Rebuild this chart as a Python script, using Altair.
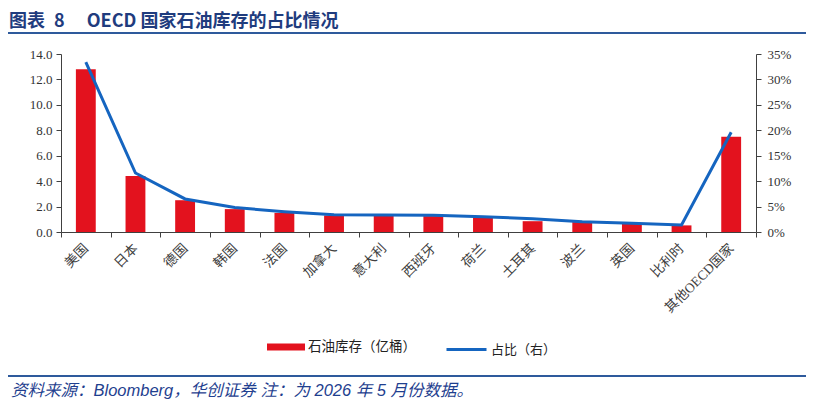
import altair as alt
import pandas as pd

countries = ["美国", "日本", "德国", "韩国", "法国", "加拿大", "意大利", "西班牙",
             "荷兰", "土耳其", "波兰", "英国", "比利时", "其他OECD国家"]
stocks = [12.8, 4.4, 2.5, 1.8, 1.5, 1.3, 1.3, 1.25, 1.15, 0.85, 0.78, 0.68, 0.52, 7.5]
shares = [0.334, 0.116, 0.065, 0.048, 0.040, 0.034, 0.0335, 0.033, 0.030, 0.026,
          0.020, 0.017, 0.014, 0.196]
bar_name = "石油库存（亿桶）"
line_name = "占比（右）"
left_ticks = [0, 2, 4, 6, 8, 10, 12, 14]
right_ticks = [0, 0.05, 0.10, 0.15, 0.20, 0.25, 0.30, 0.35]
title_text = "图表\u20028\u3000 OECD 国家石油库存的占比情况"
footer_text = "资料来源：Bloomberg，华创证券 注：为 2026 年 5 月份数据。"

df = pd.DataFrame({
    "country": countries,
    "stock": stocks,
    "share": shares,
    "s1": [bar_name] * len(countries),
    "s2": [line_name] * len(countries),
})

W, H = 695, 178
RED = "#E3121E"
BLUE = "#1565C0"
NAVY = "#1F3C7E"
SERIF = "Liberation Serif, Noto Sans CJK SC"
CJK = "Noto Sans CJK SC"

x_enc = alt.X(
    "country:N", sort=countries, title=None,
    scale=alt.Scale(paddingInner=0, paddingOuter=0),
    axis=alt.Axis(labelAngle=-45, labelAlign="right", labelBaseline="middle",
                  labelPadding=9, tickBand="extent", tickSize=5,
                  labelFont=SERIF, labelFontSize=13.5, labelColor="#404040",
                  domainColor="#404040", tickColor="#404040", labelOverlap=False),
)

bars = alt.Chart(df).mark_bar(width=alt.RelativeBandSize(0.4)).encode(
    x=x_enc,
    y=alt.Y("stock:Q", title=None,
            scale=alt.Scale(domain=[0, 14], nice=False),
            axis=alt.Axis(values=left_ticks, format=".1f", orient="left", grid=False,
                          tickSize=5, labelFont=SERIF, labelFontSize=13,
                          labelColor="#333333", domainColor="#404040",
                          tickColor="#404040", labelPadding=4)),
    color=alt.Color("s1:N", title=None,
                    scale=alt.Scale(domain=[bar_name], range=[RED]),
                    legend=alt.Legend(orient="none", legendX=206, legendY=274,
                                      symbolType="M-1,-0.18H1V0.18H-1Z",
                                      symbolSize=1444, symbolStrokeWidth=0,
                                      labelFont=CJK, labelFontSize=13.5,
                                      labelColor="#222222", labelOffset=3,
                                      padding=0)),
)

line = alt.Chart(df).mark_line(strokeWidth=3).encode(
    x=alt.X("country:N", sort=countries),
    y=alt.Y("share:Q", title=None,
            scale=alt.Scale(domain=[0, 0.35], nice=False),
            axis=alt.Axis(values=right_ticks, format=".0%", orient="right", grid=False,
                          tickSize=5, labelFont=SERIF, labelFontSize=13,
                          labelColor="#333333", domainColor="#404040",
                          tickColor="#404040", labelPadding=6)),
    stroke=alt.Stroke("s2:N", title=None,
                      scale=alt.Scale(domain=[line_name], range=[BLUE]),
                      legend=alt.Legend(orient="none", legendX=384, legendY=274,
                                        symbolType="stroke", symbolSize=1600,
                                        symbolStrokeWidth=3, labelFont=CJK,
                                        labelFontSize=13, labelColor="#222222",
                                        labelOffset=3, padding=0)),
)

title = alt.Chart(pd.DataFrame({"t": [title_text]})).mark_text(
    align="left", baseline="middle", font=CJK, fontSize=18, fontWeight="bold",
    color=NAVY,
).encode(text="t:N", x=alt.value(-52), y=alt.value(-32))

title_rule = alt.Chart(pd.DataFrame({"t": [0]})).mark_rule(
    color="#2E5A9C", strokeWidth=2.2
).encode(x=alt.value(-53), x2=alt.value(745), y=alt.value(-21))

foot_rule = alt.Chart(pd.DataFrame({"t": [0]})).mark_rule(
    color="#2E5A9C", strokeWidth=2.2
).encode(x=alt.value(-53), x2=alt.value(745), y=alt.value(322))

footer = alt.Chart(pd.DataFrame({"t": [footer_text]})).mark_text(
    align="left", baseline="middle", font="Liberation Sans, Noto Sans CJK SC",
    fontSize=16.5, fontStyle="italic", color="#1F3F8F",
).encode(text="t:N", x=alt.value(-50), y=alt.value(337))

chart = alt.layer(bars, line, title, title_rule, foot_rule, footer).resolve_scale(
    y="independent", color="independent"
).properties(
    width=W, height=H,
    autosize=alt.AutoSizeParams(type="none"),
    padding={"left": 53, "top": 46, "right": 50, "bottom": 170},
).configure_view(stroke=None).configure_axis(domainWidth=1, tickWidth=1)

chart.save("out.html", embed_options={"renderer": "svg", "actions": False})
